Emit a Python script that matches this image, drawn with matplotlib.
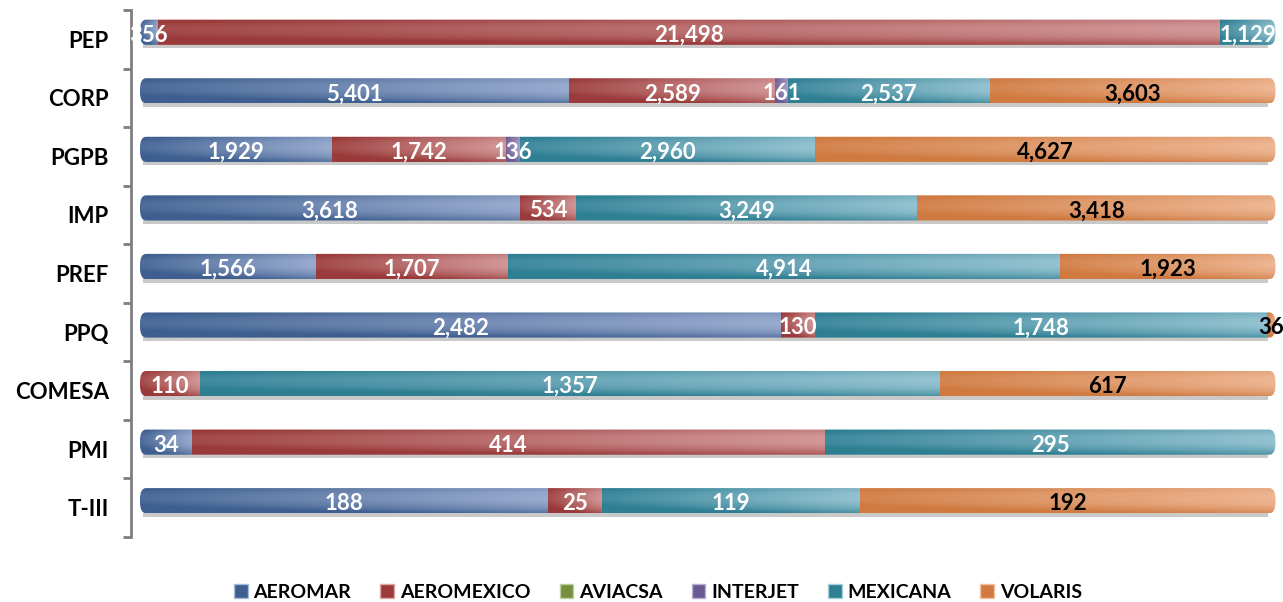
import numpy as np
import matplotlib
matplotlib.use("Agg")
import matplotlib.pyplot as plt
from matplotlib.patches import Patch, Rectangle, FancyBboxPatch
from matplotlib.colors import to_rgb

plt.rcParams['font.family'] = ['Lato', 'DejaVu Sans']

# unidades por dependencia y aerolinea
dependencias = ["PEP", "CORP", "PGPB", "IMP", "PREF", "PPQ", "COMESA", "PMI", "T-III"]
aeromar    = [356, 5401, 1929, 3618, 1566, 2482, 0, 34, 188]
aeromexico = [21498, 2589, 1742, 534, 1707, 130, 110, 414, 25]
aviacsa    = [0, 0, 0, 0, 0, 0, 0, 0, 0]
interjet   = [0, 161, 136, 0, 0, 0, 0, 0, 0]
mexicana   = [1129, 2537, 2960, 3249, 4914, 1748, 1357, 295, 119]
volaris    = [0, 3603, 4627, 3418, 1923, 36, 617, 0, 192]

aerolineas = ["AEROMAR", "AEROMEXICO", "AVIACSA", "INTERJET", "MEXICANA", "VOLARIS"]
series = [aeromar, aeromexico, aviacsa, interjet, mexicana, volaris]

# (oscuro, claro) para el degradado de cada aerolinea
colores = [("#3E5F8F", "#A9B9DA"),
           ("#9A3A3A", "#DDA8A8"),
           ("#76903F", "#BFD0A0"),
           ("#6A5A94", "#B8AED2"),
           ("#2F7F93", "#A6CFDC"),
           ("#CF7A40", "#F3C1A2")]
color_texto = ["white", "white", "white", "white", "white", "black"]

W, H = 12.83, 6.02
fig = plt.figure(figsize=(W, H), dpi=100)
ax = fig.add_axes([131 / 1283, 1 - 537 / 602, (1276 - 131) / 1283, 527 / 602])

x0 = -0.0079
ax.set_xlim(x0, 1.0)
ax.set_ylim(8.5, -0.5)

alto = 0.43
desp = -0.12
px_x = (1276 - 131) / (1.0 - x0)

datos = np.array(series, dtype=float)
totales = datos.sum(axis=0)

hh = np.linspace(0, 1, 128)
vv = np.linspace(0, 1, 24)

for i, dep in enumerate(dependencias):
    yc = i + desp
    # sombra bajo la barra
    ax.add_patch(Rectangle((0.003, yc + alto / 2 - 0.01), 0.99, 0.07,
                           color="#C9C9C9", lw=0, zorder=1))
    # contorno redondeado de toda la barra
    r = 6 / px_x
    caja = FancyBboxPatch((0, yc - alto / 2), 0.9995, alto,
                          boxstyle="round,pad=0,rounding_size=%f" % r,
                          mutation_aspect=(alto / 2 * 0.9) / r,
                          transform=ax.transData, facecolor="none", lw=0)
    ax.add_patch(caja)
    izq = 0.0
    for k, s in enumerate(series):
        frac = s[i] / totales[i]
        if frac <= 0:
            continue
        d = np.array(to_rgb(colores[k][0]))
        l = np.array(to_rgb(colores[k][1]))
        t = 0.15 + 0.7 * hh[None, :] - 1.6 * (vv[:, None] - 0.4) ** 2
        t = np.clip(t, 0, 1)[:, :, None]
        img = d + (l - d) * t
        im = ax.imshow(img, extent=(izq, izq + frac, yc + alto / 2, yc - alto / 2),
                       aspect="auto", interpolation="bilinear", zorder=2)
        im.set_clip_path(caja)
        ax.text(izq + frac / 2, yc + 0.05, f"{s[i]:,}", ha="center", va="center",
                fontsize=16, fontweight="bold", color=color_texto[k], zorder=3)
        izq += frac

ax.set_xlim(x0, 1.0)
ax.set_ylim(8.5, -0.5)

for lado in ["top", "right", "bottom"]:
    ax.spines[lado].set_visible(False)
ax.spines["left"].set_color("#7F7F7F")
ax.spines["left"].set_linewidth(2)
ax.set_xticks([])
ax.set_yticks(range(len(dependencias)))
ax.set_yticklabels(dependencias, fontsize=16, fontweight="bold")
ax.set_yticks(np.arange(-0.5, 9, 1), minor=True)
ax.tick_params(axis="y", which="major", length=0, pad=16)
ax.tick_params(axis="y", which="minor", length=6, width=2, color="#7F7F7F")

manejadores = [Patch(facecolor=colores[k][0], edgecolor=colores[k][1]) for k in range(6)]
fig.legend(manejadores, aerolineas, loc="center", bbox_to_anchor=(658 / 1283, 1 - 592 / 602),
           ncol=6, frameon=False, handlelength=0.7, handleheight=0.7, handletextpad=0.3,
           columnspacing=1.5, prop={"weight": "bold", "size": 14})

fig.savefig("out.png", dpi=100)
